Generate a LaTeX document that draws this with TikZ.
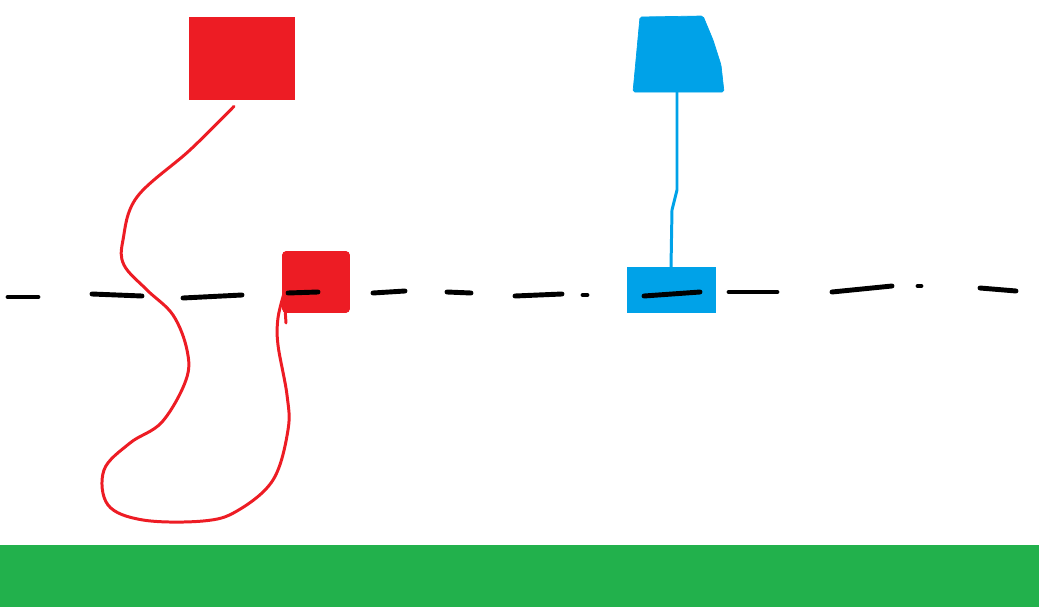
\documentclass[tikz,border=0pt]{standalone}
\usepackage{tikz}

\definecolor{pred}{HTML}{ED1C24}
\definecolor{pblue}{HTML}{00A2E8}
\definecolor{pgreen}{HTML}{22B14C}

\begin{document}
\begin{tikzpicture}[x=0.02cm,y=-0.02cm]
	\tikzstyle{redbox}=[rectangle,fill=pred,draw=pred,inner sep=0pt]
	\tikzstyle{bluebox}=[rectangle,fill=pblue,draw=pblue,inner sep=0pt]
	\tikzstyle{dashseg}=[black,line width=2.8pt,line cap=round]
	\tikzstyle{redline}=[pred,line width=1.7pt,line cap=round,line join=round]
	\tikzstyle{blueline}=[pblue,line width=1.7pt,line cap=round,line join=round]
	\useasboundingbox (0,0) rectangle (1039,612);
		\fill[pgreen] (0,545) rectangle (1039,607);
		\node[redbox, minimum width=2.1cm, minimum height=1.64cm] (r1) at (242,58) {};
		\node[redbox, minimum width=1.34cm, minimum height=1.22cm, rounded corners=2pt] (r2) at (316,282) {};
		% lamp shade
		\filldraw[pblue, rounded corners=1pt] (640,17) -- (703,16) -- (713,40) -- (721,65) -- (724,92) -- (633,92) -- (636,60) -- cycle;
		\coordinate (b1) at (677,92);
		\node[bluebox, minimum width=1.76cm, minimum height=0.9cm] (b2) at (671,290) {};
			% dash-dot line
			\foreach \xa/\ya/\xb/\yb in {8/297/38/297, 92/294/142/296, 183/298/242/295, 288/293/318/292, 373/293/405/291, 447/292/471/293, 515/296/562/294, 583/295/587/295, 644/296/700/292, 729/292/777/292, 832/292/892/286, 918/286/921/286, 980/288/1016/291}
				\draw[dashseg] (\xa,\ya) -- (\xb,\yb);
			\coordinate (rs) at ([shift={(-8,7)}]r1.south);
			\coordinate (re) at ([shift={(2,11)}]r2.west);
			\draw[redline] plot[smooth, tension=0.6] coordinates {(rs) (190,150) (137,197) (123,240) (124,265) (147,290) (173,315) (187,350) (186,380) (162,422) (130,443) (104,470) (108,505) (143,520) (203,521) (237,511) (273,480) (288,430) (287,395) (278,345) (278,318) (re)};
			\draw[redline] (285,308) -- (286,323);
			\draw[blueline] (b1) -- (677,190) -- (672,210) -- (b2.north);
\end{tikzpicture}
\end{document}
